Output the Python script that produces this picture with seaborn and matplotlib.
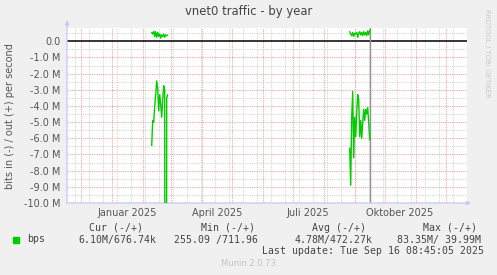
import numpy as np
import pandas as pd
import matplotlib
matplotlib.use("Agg")
import matplotlib.pyplot as plt
import matplotlib.ticker as mticker
import seaborn as sns

# ---------------- data ----------------
in_dates_1 = ["2025-02-10", "2025-02-11", "2025-02-12", "2025-02-13", "2025-02-14",
              "2025-02-15", "2025-02-16", "2025-02-17", "2025-02-18", "2025-02-19",
              "2025-02-20", "2025-02-21", "2025-02-22", "2025-02-23", "2025-02-24",
              "2025-02-25", "2025-02-26"]
in_vals_1 = [-6.45, -4.9, -5.0, -4.0, -3.3, -2.45, -2.9, -4.3, -3.3, -3.9,
             -4.7, -3.6, -2.75, -3.0, -83.35, -3.5, -3.3]
in_dates_2 = ["2025-08-27", "2025-08-28", "2025-08-29", "2025-08-30", "2025-08-31",
              "2025-09-01", "2025-09-02", "2025-09-03", "2025-09-04", "2025-09-05",
              "2025-09-06", "2025-09-07", "2025-09-08", "2025-09-09", "2025-09-10",
              "2025-09-11", "2025-09-12", "2025-09-13", "2025-09-14", "2025-09-15",
              "2025-09-16"]
in_vals_2 = [-6.6, -8.9, -4.7, -3.1, -7.2, -4.7, -5.9, -4.45, -3.3, -3.6,
             -5.9, -4.9, -6.0, -5.0, -4.2, -4.9, -4.2, -4.5, -4.1, -5.0, -6.10]

out_dates_1 = ["2025-02-10", "2025-02-11", "2025-02-12", "2025-02-13", "2025-02-14",
               "2025-02-15", "2025-02-16", "2025-02-17", "2025-02-18", "2025-02-19",
               "2025-02-20", "2025-02-21", "2025-02-22", "2025-02-23", "2025-02-24",
               "2025-02-25", "2025-02-26"]
out_vals_1 = [0.55, 0.45, 0.62, 0.3, 0.6, 0.25, 0.55, 0.3, 0.45, 0.2,
              0.4, 0.3, 0.45, 0.25, 0.4, 0.35, 0.38]
out_dates_2 = in_dates_2
out_vals_2 = [0.6, 0.45, 0.35, 0.55, 0.3, 0.5, 0.45, 0.55, 0.25, 0.5,
              0.6, 0.4, 0.55, 0.35, 0.6, 0.4, 0.55, 0.35, 0.65, 0.4, 0.68]

month_labels = ["Januar 2025", "April 2025", "Juli 2025", "Oktober 2025"]
month_label_dates = ["2025-01-16", "2025-04-16", "2025-07-16", "2025-10-16"]
y_ticks_m = [0, -1, -2, -3, -4, -5, -6, -7, -8, -9, -10]
y_tick_labels = ["0.0", "-1.0 M", "-2.0 M", "-3.0 M", "-4.0 M", "-5.0 M",
                 "-6.0 M", "-7.0 M", "-8.0 M", "-9.0 M", "-10.0 M"]
now_date = "2025-09-16"

legend_name = "bps"
cur_text = "6.10M/676.74k"
min_text = "255.09 /711.96"
avg_text = "4.78M/472.27k"
max_text = "83.35M/ 39.99M"
last_update = "Last update: Tue Sep 16 08:45:05 2025"

# ---------------- frame ----------------
frames = []
for seg, (d, v) in enumerate([(in_dates_1, in_vals_1), (in_dates_2, in_vals_2),
                              (out_dates_1, out_vals_1), (out_dates_2, out_vals_2)]):
    frames.append(pd.DataFrame({"date": pd.to_datetime(d),
                                "value": np.array(v) * 1e6,
                                "segment": seg}))
df = pd.concat(frames, ignore_index=True)

sns.set_style("white")
plt.rcParams["font.family"] = ["DejaVu Sans"]

W, H = 497, 275
fig = plt.figure(figsize=(W / 100, H / 100), dpi=100, facecolor="#F0F0F0")
L, R, T, B = 67, 467, 28, 203
ax = fig.add_axes([L / W, 1 - B / H, (R - L) / W, (B - T) / H])
ax.set_facecolor("white")

jan1 = pd.Timestamp("2025-01-01")
x0 = jan1 - pd.Timedelta(days=44.7)
x1 = jan1 + pd.Timedelta(days=355.3)
ax.set_xlim(x0, x1)
ax.set_ylim(-10e6, 0.824e6)

# grid
minor_days = pd.date_range("2024-11-11", "2025-12-31", freq="14D")
month_days = pd.date_range("2024-12-01", "2025-12-01", freq="MS")
import matplotlib.dates as mdates
for d in minor_days:
    ax.axvline(d, color="#D6D6D6", lw=0.8, ls=(0, (1, 1)), zorder=0.5)
for d in month_days:
    ax.axvline(d, color="#EBA8A8", lw=0.8, ls=(0, (1, 1)), zorder=0.6)
for yv in np.arange(-9.5, 0.9, 1.0):
    ax.axhline(yv * 1e6, color="#D6D6D6", lw=0.8, ls=(0, (1, 1)), zorder=0.5)
for yv in y_ticks_m[1:]:
    ax.axhline(yv * 1e6, color="#EBA8A8", lw=0.8, ls=(0, (1, 1)), zorder=0.6)

ax.axhline(0, color="black", lw=1.1, zorder=2)
ax.axvline(pd.Timestamp(now_date), color="#909090", lw=1.0, zorder=3)

sns.lineplot(data=df, x="date", y="value", units="segment", estimator=None,
             color="#00CC00", lw=1.0, ax=ax, zorder=4, legend=False)

ax.set_xlabel("")
ax.set_ylabel("")
ax.set_yticks([v * 1e6 for v in y_ticks_m])
ax.set_yticklabels(y_tick_labels)
ax.set_xticks([])
ax.tick_params(axis="y", length=0, pad=4.5, labelsize=7, labelcolor="#555555")
for s in ax.spines.values():
    s.set_visible(False)

# axes with arrows
axis_col = "#C8C8F0"
ax.annotate("", xy=(0, 1.045), xytext=(0, 0), xycoords="axes fraction",
            arrowprops=dict(arrowstyle="-|>", color=axis_col, lw=0.9,
                            mutation_scale=6, shrinkA=0, shrinkB=0),
            annotation_clip=False)
ax.annotate("", xy=(1.01, 0), xytext=(0, 0), xycoords="axes fraction",
            arrowprops=dict(arrowstyle="-|>", color=axis_col, lw=0.9,
                            mutation_scale=6, shrinkA=0, shrinkB=0),
            annotation_clip=False)

# month labels
for lab, d in zip(month_labels, month_label_dates):
    ax.text(pd.Timestamp(d), -(213 - B) / (B - T), lab, transform=ax.get_xaxis_transform(),
            ha="center", va="center", fontsize=7, color="#555555")

# titles
fig.text(249 / W, 1 - 12 / H, "vnet0 traffic - by year", ha="center", va="center",
         fontsize=8.4, color="#444444")
fig.text(10 / W, 1 - 116 / H, "bits in (-) / out (+) per second", ha="center",
         va="center", rotation=90, fontsize=7, color="#555555")
fig.text(487 / W, 1 - 53 / H, "RRDTOOL / TOBI OETIKER", ha="center", va="center",
         rotation=270, fontsize=5, color="#C8C8C8")

mono = dict(family="DejaVu Sans Mono", fontsize=7.15, color="#444444", va="center")
fig.text(89 / W, 1 - 228 / H, "Cur (-/+)", ha="left", **mono)
fig.text(201 / W, 1 - 228 / H, "Min (-/+)", ha="left", **mono)
fig.text(311.7 / W, 1 - 228 / H, "Avg (-/+)", ha="left", **mono)
fig.text(422.7 / W, 1 - 228 / H, "Max (-/+)", ha="left", **mono)
fig.text(27 / W, 1 - 239.5 / H, legend_name, ha="left", **mono)
fig.text(78.3 / W, 1 - 239.5 / H, cur_text, ha="left", **mono)
fig.text(174.3 / W, 1 - 239.5 / H, min_text, ha="left", **mono)
fig.text(295 / W, 1 - 239.5 / H, avg_text, ha="left", **mono)
fig.text(396.7 / W, 1 - 239.5 / H, max_text, ha="left", **mono)
fig.text(261.7 / W, 1 - 251 / H, last_update, ha="left", **mono)
fig.patches.append(plt.Rectangle((13 / W, 1 - 243 / H), 6 / W, 6 / H,
                                 transform=fig.transFigure, color="#00CC00"))
fig.text(248 / W, 1 - 264 / H, "Munin 2.0.73", ha="center", va="center",
         fontsize=6, color="#C4C4C4")

fig.savefig("out.png", dpi=100, facecolor=fig.get_facecolor())
